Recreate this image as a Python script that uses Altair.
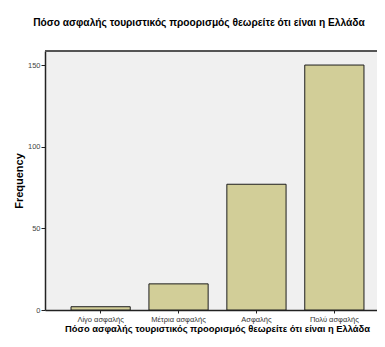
import altair as alt
import pandas as pd

categories = ["Λίγο ασφαλής", "Μέτρια ασφαλής", "Ασφαλής", "Πολύ ασφαλής"]
frequency = [2, 16, 77, 150]

df = pd.DataFrame({"cat": categories, "freq": frequency})

W = 332
H = 259
FONT = "Liberation Sans"

bars = alt.Chart(df).mark_bar(
    fill="#D2CE98", stroke="#1E1E1E", strokeWidth=1
).encode(
    x=alt.X("cat:N", sort=categories,
            scale=alt.Scale(range=[0, 345], paddingInner=0.24, paddingOuter=0.334),
            axis=alt.Axis(title="Πόσο ασφαλής τουριστικός προορισμός θεωρείτε ότι είναι η Ελλάδα",
                          labelAngle=0, labelFontSize=7.5, labelColor="#333333",
                          labelFont=FONT, tickSize=3, tickColor="#222222",
                          domainColor="#222222", domainWidth=1.5,
                          titleFont=FONT, titleFontSize=9.4, titleFontWeight="bold",
                          titleColor="#000000", titlePadding=2, titleX=172, labelPadding=2,
                          grid=False)),
    y=alt.Y("freq:Q", scale=alt.Scale(domain=[0, 158.6], nice=False),
            axis=alt.Axis(title="Frequency", values=[0, 50, 100, 150],
                          labelFontSize=7.5, labelColor="#444444", labelFont=FONT,
                          tickSize=4, tickColor="#222222", domainColor="#222222", domainWidth=1.5,
                          titleFont=FONT, titleFontSize=11, titleFontWeight="bold",
                          titleColor="#000000", titlePadding=3, grid=False, labelPadding=1)),
)

top_line = alt.Chart(df).mark_rule(color="#555555", strokeWidth=1.5).encode(
    x=alt.value(0), x2=alt.value(W), y=alt.value(0)
)

chart = alt.layer(bars, top_line).properties(
    width=W, height=H,
    title=alt.TitleParams(
        "Πόσο ασφαλής τουριστικός προορισμός θεωρείτε ότι είναι η Ελλάδα",
        font=FONT, fontSize=10.2, fontWeight="bold", color="#000000",
        anchor="middle", dx=-12, offset=22),
    autosize=alt.AutoSizeParams(type="none"),
    padding={"left": 37, "top": 43, "right": 0, "bottom": 25},
    background="white",
).configure_view(fill="#F0F0F0", stroke=None)

chart.save("out.html", embed_options={"renderer": "svg", "actions": False})
